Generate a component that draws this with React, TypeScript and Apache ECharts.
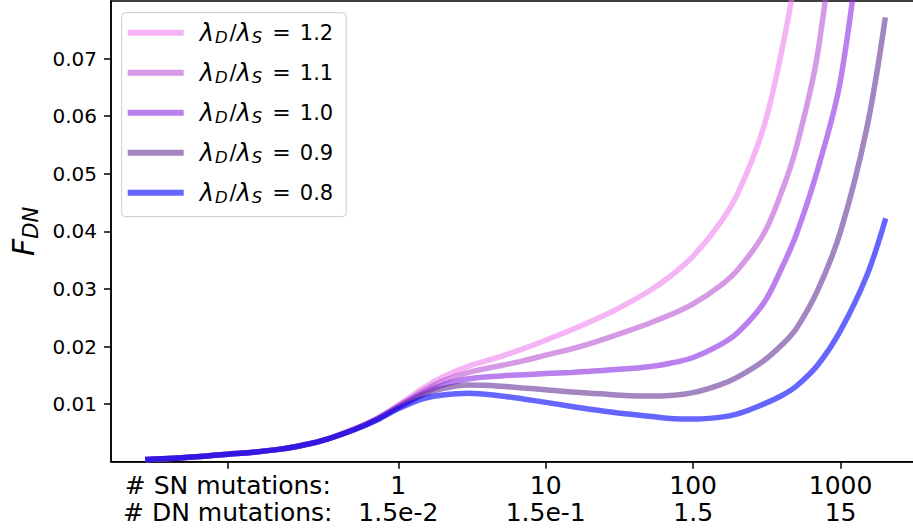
import React, { useEffect, useRef } from 'react';
import * as echarts from 'echarts';

// x: number of SN mutations (log scale)
const xValues = [0.02, 0.03, 0.05, 0.07, 0.1, 0.15, 0.2, 0.3, 0.5, 0.7, 1, 1.5, 2, 3, 5, 7, 10, 15, 20, 30, 50, 70, 100, 150, 200, 300, 400, 500, 700, 1000, 1500, 2000];

const ratio12 = [0.0004, 0.0006, 0.0010, 0.0013, 0.0016, 0.0021, 0.0026, 0.0036, 0.0057, 0.0074, 0.0098, 0.0129, 0.0147, 0.0166, 0.0183, 0.0196, 0.0211, 0.0229, 0.0243, 0.0264, 0.0296, 0.0322, 0.0357, 0.0412, 0.0465, 0.0580, 0.0715, 0.0850, 0.110, 0.150, 0.210, 0.270];
const ratio11 = [0.0004, 0.0006, 0.0010, 0.0013, 0.0016, 0.0021, 0.0026, 0.0036, 0.0056, 0.0073, 0.0097, 0.0124, 0.0140, 0.0155, 0.0167, 0.0175, 0.0185, 0.0196, 0.0205, 0.0220, 0.0240, 0.0255, 0.0274, 0.0304, 0.0333, 0.0395, 0.0470, 0.0545, 0.0710, 0.103, 0.150, 0.190];
const ratio10 = [0.0004, 0.0006, 0.0010, 0.0013, 0.0016, 0.0021, 0.0026, 0.0036, 0.0056, 0.0073, 0.0095, 0.0120, 0.0133, 0.0144, 0.0149, 0.0151, 0.0153, 0.0155, 0.0157, 0.0160, 0.0165, 0.0171, 0.0181, 0.0202, 0.0224, 0.0275, 0.0337, 0.0394, 0.0508, 0.0663, 0.100, 0.130];
const ratio09 = [0.0004, 0.0006, 0.0010, 0.0013, 0.0016, 0.0021, 0.0026, 0.0036, 0.0056, 0.0072, 0.0094, 0.0117, 0.0127, 0.0133, 0.0131, 0.0128, 0.0125, 0.0121, 0.0119, 0.0116, 0.0114, 0.0115, 0.0120, 0.0133, 0.0147, 0.0175, 0.0203, 0.0231, 0.0298, 0.0400, 0.0577, 0.0767];
const ratio08 = [0.0004, 0.0006, 0.0010, 0.0013, 0.0016, 0.0021, 0.0026, 0.0036, 0.0055, 0.0071, 0.0092, 0.0110, 0.0116, 0.0119, 0.0114, 0.0109, 0.0103, 0.0096, 0.0091, 0.0085, 0.0079, 0.0075, 0.0074, 0.0077, 0.0083, 0.0100, 0.0115, 0.0131, 0.0168, 0.0228, 0.0322, 0.0418];

const seriesRatios = ['1.2', '1.1', '1.0', '0.9', '0.8'];
const seriesData = [ratio12, ratio11, ratio10, ratio09, ratio08];
const seriesColors = ['rgba(238,130,238,0.6)', 'rgba(186,85,211,0.6)', 'rgba(138,43,226,0.6)', 'rgba(102,51,153,0.6)', 'rgba(0,0,255,0.6)'];

// x tick positions and their two-line labels
const xTickValues = [0.0697, 1, 10, 100, 1000];
const snLabels = ['# SN mutations:', '1', '10', '100', '1000'];
const dnLabels = ['# DN mutations:', '1.5e-2', '1.5e-1', '1.5', '15'];

const yTickValues = [0.01, 0.02, 0.03, 0.04, 0.05, 0.06, 0.07];

const FONT = 'DejaVu Sans';

export default function App() {
  const ref = useRef<HTMLDivElement>(null);
  useEffect(() => {
    const chart = echarts.init(ref.current as HTMLDivElement, null, { renderer: 'svg' });
    const names = seriesRatios.map((r) => 'λD/λS = ' + r);
    chart.setOption({
      animation: false,
      backgroundColor: '#ffffff',
      grid: {
        left: 108.3,
        right: 0.2,
        top: 1,
        bottom: 69.3,
        containLabel: false,
        show: true,
        borderColor: '#000',
        borderWidth: 1.5,
        backgroundColor: 'transparent',
      },
      legend: {
        orient: 'vertical',
        left: 121.7,
        top: 12.7,
        data: names,
        icon: 'rect',
        itemWidth: 56,
        itemHeight: 6,
        itemGap: 15,
        padding: [8, 13, 11, 6],
        backgroundColor: 'rgba(255,255,255,0.8)',
        borderColor: '#cccccc',
        borderWidth: 1,
        borderRadius: 4,
        formatter: (name: string) => {
          const r = name.split('= ')[1];
          return '{m|λ}{sub|D}{n|/}{m|λ}{sub|S}{eq|=}{n|' + r + '}';
        },
        textStyle: {
          fontFamily: FONT,
          fontSize: 21,
          color: '#000',
          padding: [0, 0, 0, 11],
          rich: {
            m: { fontFamily: FONT, fontStyle: 'italic', fontSize: 24, lineHeight: 26, color: '#000' },
            sub: { fontFamily: FONT, fontStyle: 'italic', fontSize: 16.5, lineHeight: 12, verticalAlign: 'bottom', padding: [0, 2, 0, 1], color: '#000' },
            eq: { fontFamily: FONT, fontSize: 22, lineHeight: 26, padding: [0, 9, 0, 8], color: '#000' },
            n: { fontFamily: FONT, fontSize: 21, lineHeight: 26, color: '#000' },
          },
        },
      },
      xAxis: {
        type: 'log',
        logBase: 10,
        min: 0.01125,
        max: 3556,
        axisLine: { show: true, onZero: false, lineStyle: { color: '#000', width: 1.5 } },
        axisTick: { show: true, inside: false, length: 7, lineStyle: { color: '#000', width: 1.5 }, customValues: xTickValues },
        minorTick: { show: false },
        splitLine: { show: false },
        axisLabel: {
          customValues: xTickValues,
          margin: 10,
          fontFamily: FONT,
          fontSize: 25,
          lineHeight: 27,
          color: '#000',
          align: 'center',
          formatter: (v: number) => {
            const i = xTickValues.findIndex((t) => Math.abs(v - t) / t < 1e-3);
            return i >= 0 ? snLabels[i] + '\n' + dnLabels[i] : '';
          },
        },
      },
      yAxis: {
        type: 'value',
        min: 0,
        max: 0.08,
        name: '{f|F}{s|DN}',
        nameLocation: 'middle',
        nameRotate: 90,
        nameGap: 70,
        nameTextStyle: {
          rich: {
            f: { fontFamily: FONT, fontStyle: 'italic', fontSize: 30, lineHeight: 36, color: '#000' },
            s: { fontFamily: FONT, fontStyle: 'italic', fontSize: 21, lineHeight: 18, verticalAlign: 'bottom', color: '#000' },
          },
        },
        axisLine: { show: true, onZero: false, lineStyle: { color: '#000', width: 1.5 } },
        axisTick: { show: true, inside: false, length: 7, lineStyle: { color: '#000', width: 1.5 }, customValues: yTickValues },
        splitLine: { show: false },
        axisLabel: {
          customValues: yTickValues,
          margin: 14,
          fontFamily: FONT,
          fontSize: 20,
          color: '#000',
          formatter: (v: number) => v.toFixed(2),
        },
      },
      series: seriesData.map((d, i) => ({
        name: names[i],
        type: 'line',
        data: xValues.map((x, j) => [x, d[j]]),
        showSymbol: false,
        symbol: 'none',
        smooth: 0.35,
        clip: true,
        color: seriesColors[i],
        itemStyle: { color: seriesColors[i] },
        lineStyle: { color: seriesColors[i], width: 5.5, cap: 'square' },
        emphasis: { disabled: true },
      })),
    });
    return () => chart.dispose();
  }, []);
  return (
    <div style={{ position: 'fixed', left: 0, top: 0, width: 913, height: 531, overflow: 'hidden', background: '#fff' }}>
      <div ref={ref} style={{ width: 922, height: 531 }} />
    </div>
  );
}
